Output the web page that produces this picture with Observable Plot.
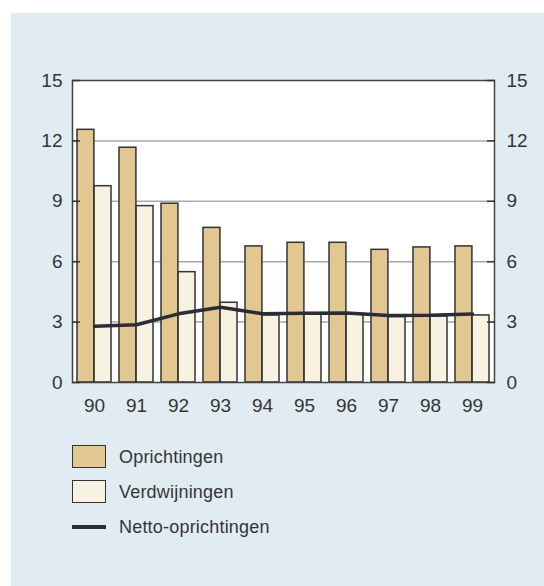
<!DOCTYPE html>
<html>
<head>
<meta charset="utf-8">
<script src="https://cdn.jsdelivr.net/npm/d3@7"></script>
<script src="https://cdn.jsdelivr.net/npm/@observablehq/plot@0.6"></script>
<style>
  html, body { margin: 0; padding: 0; background: #ffffff; }
  #wrap { position: relative; width: 544px; height: 586px; overflow: hidden; font-family: "Liberation Sans", Arial, sans-serif; color: #353535; }
  #panel { position: absolute; left: 11px; top: 13px; right: 0; bottom: 0; background: #e1ebf2; }
  #chart { position: absolute; left: 0; top: 0; }
  .lg { position: absolute; left: 72px; font-size: 18px; }
  .sw { position: absolute; left: 0; width: 34px; height: 23px; box-sizing: border-box; border: 1.5px solid #333; }
  .ln { position: absolute; left: 0; width: 34px; height: 3.5px; background: #2a2d33; }
  .tx { position: absolute; left: 47px; white-space: nowrap; line-height: 20px; letter-spacing: 0.2px; }
</style>
</head>
<body>
<div id="wrap">
  <div id="panel"></div>
  <div id="chart"></div>
  <div class="lg" style="top:445px;">
    <div class="sw" style="top:0; background:#e3c791;"></div>
    <div class="tx" style="top:2px;">Oprichtingen</div>
  </div>
  <div class="lg" style="top:480px;">
    <div class="sw" style="top:0; background:#f7f2e2;"></div>
    <div class="tx" style="top:2px;">Verdwijningen</div>
  </div>
  <div class="lg" style="top:515px;">
    <div class="ln" style="top:10px;"></div>
    <div class="tx" style="top:2px;">Netto-oprichtingen</div>
  </div>
</div>
<script>
const years = ["90", "91", "92", "93", "94", "95", "96", "97", "98", "99"];
const oprichtingen = [12.55, 11.66, 8.88, 7.68, 6.76, 6.94, 6.94, 6.59, 6.71, 6.76];
const verdwijningen = [9.75, 8.76, 5.48, 3.96, 3.33, 3.41, 3.41, 3.25, 3.28, 3.33];
const netto = [2.80, 2.87, 3.41, 3.74, 3.41, 3.44, 3.45, 3.33, 3.34, 3.40];
const yTicks = [0, 3, 6, 9, 12, 15];
const gridValues = [3, 6, 9, 12];

const data = years.map((y, i) => ({year: y, opr: oprichtingen[i], verd: verdwijningen[i], net: netto[i]}));

const W = 544, mL = 72, mR = 50;
const pInner = 0.19, pOuter = 0.095;
const step = (W - mL - mR) / (years.length - pInner + 2 * pOuter);
const half = step * (1 - pInner) / 2;

const font = "'Liberation Sans', Arial, sans-serif";
const chart = Plot.plot({
  width: W,
  height: 422,
  marginLeft: mL,
  marginRight: mR,
  marginTop: 80,
  marginBottom: 40,
  style: {background: "transparent", fontFamily: font, fontSize: "19px", color: "#353535"},
  x: {type: "band", domain: years, paddingInner: pInner, paddingOuter: pOuter, axis: null},
  y: {domain: [0, 15], axis: null},
  marks: [
    Plot.frame({fill: "#ffffff", stroke: null}),
    Plot.ruleY(gridValues, {stroke: "#a9a9a9", strokeWidth: 1.5}),
    Plot.barY(data, {x: "year", y: "opr", fill: "#e3c791", stroke: "#333", strokeWidth: 1.5, insetRight: half}),
    Plot.barY(data, {x: "year", y: "verd", fill: "#f7f2e2", stroke: "#333", strokeWidth: 1.5, insetLeft: half}),
    Plot.line(data, {x: "year", y: "net", stroke: "#2a2d33", strokeWidth: 3.5, curve: "linear"}),
    Plot.frame({stroke: "#444", strokeWidth: 1.5}),
    Plot.axisY({anchor: "left", ticks: yTicks, tickSize: -8, tickFormat: () => "", label: null, stroke: "#333", strokeWidth: 1.5}),
    Plot.axisY({anchor: "right", ticks: yTicks, tickSize: -8, tickFormat: () => "", label: null, stroke: "#333", strokeWidth: 1.5}),
    Plot.axisY({anchor: "left", ticks: yTicks, tickSize: 0, tickPadding: 10, label: null, fill: "#353535"}),
    Plot.axisY({anchor: "right", ticks: yTicks, tickSize: 0, tickPadding: 12, label: null, fill: "#353535"}),
    Plot.axisX({anchor: "bottom", tickSize: 0, tickPadding: 16, label: null, fill: "#353535"})
  ]
});
document.getElementById("chart").appendChild(chart);
</script>
</body>
</html>
